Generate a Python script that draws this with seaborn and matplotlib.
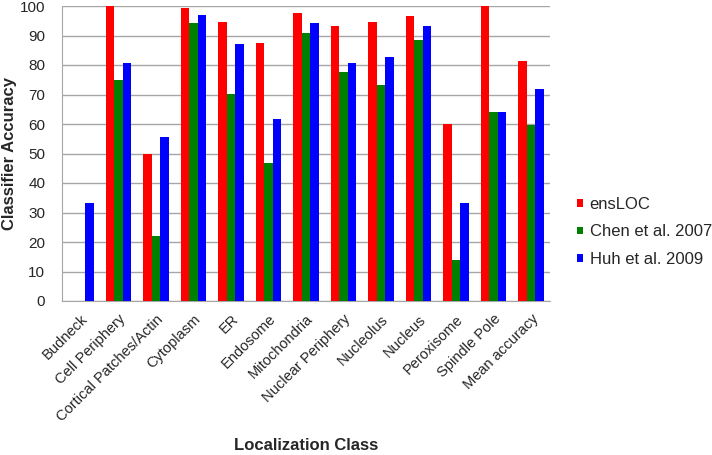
import numpy as np
import pandas as pd
import matplotlib
matplotlib.use("Agg")
import matplotlib.pyplot as plt
import seaborn as sns

classes = ["Budneck", "Cell Periphery", "Cortical Patches/Actin", "Cytoplasm", "ER",
           "Endosome", "Mitochondria", "Nuclear Periphery", "Nucleolus", "Nucleus",
           "Peroxisome", "Spindle Pole", "Mean accuracy"]
ensloc = [0, 100, 50, 99.4, 94.7, 87.6, 97.5, 93.2, 94.7, 96.6, 60, 100, 81.2]
chen = [0, 75.0, 22.0, 94.2, 70.3, 46.9, 90.8, 77.5, 73.1, 88.5, 13.9, 64.1, 59.8]
huh = [33.1, 80.8, 55.6, 97.1, 87.1, 61.7, 94.2, 80.8, 82.7, 93.2, 33.1, 64.1, 71.8]
series = ["ensLOC", "Chen et al. 2007", "Huh et al. 2009"]
colors = ["#ff0000", "#008000", "#0000ff"]

df = pd.DataFrame({
    "cls": classes * 3,
    "acc": ensloc + chen + huh,
    "src": [s for s in series for _ in classes],
})

sns.set_style("white")
plt.rcParams["font.family"] = ["Liberation Sans", "DejaVu Sans"]

fig = plt.figure(figsize=(7.12, 4.55), dpi=100)
ax = fig.add_axes([62/712, 1 - 301/455, 488/712, 295/455])
sns.barplot(data=df, x="cls", y="acc", hue="src", palette=colors, width=0.68,
            saturation=1, linewidth=0, ax=ax, zorder=3)

ax.set_ylim(0, 100)
ax.set_yticks(np.arange(0, 101, 10))
ax.set_xlim(-0.5, len(classes) - 0.5)
ax.yaxis.grid(True, color="#a6a6a6", linewidth=1, zorder=0)
ax.set_axisbelow(True)
for s in ["top", "right"]:
    ax.spines[s].set_visible(False)
for s in ["left", "bottom"]:
    ax.spines[s].set_color("#a6a6a6")
ax.tick_params(axis="y", length=4, color="#a6a6a6", labelsize=11, pad=8)
ax.tick_params(axis="x", length=0, labelsize=10.5, pad=8)
ax.set_xticks(range(len(classes)))
ax.set_xticklabels(classes, rotation=45, ha="right", rotation_mode="anchor")
ax.set_ylabel("Classifier Accuracy", fontsize=12, fontweight="bold", va="center")
ax.yaxis.set_label_coords(-52/488, 0.5)
ax.set_xlabel("Localization Class", fontsize=12, fontweight="bold", va="center")
ax.xaxis.set_label_coords(0.5, (301 - 446) / 295)

ax.legend(loc="center left", bbox_to_anchor=(577/712, 1 - 232/455),
          bbox_transform=fig.transFigure, frameon=False, borderpad=0,
          borderaxespad=0, fontsize=12, handlelength=0.35, handleheight=0.35,
          labelspacing=0.75, handletextpad=0.4)

fig.savefig("out.png", dpi=100)
